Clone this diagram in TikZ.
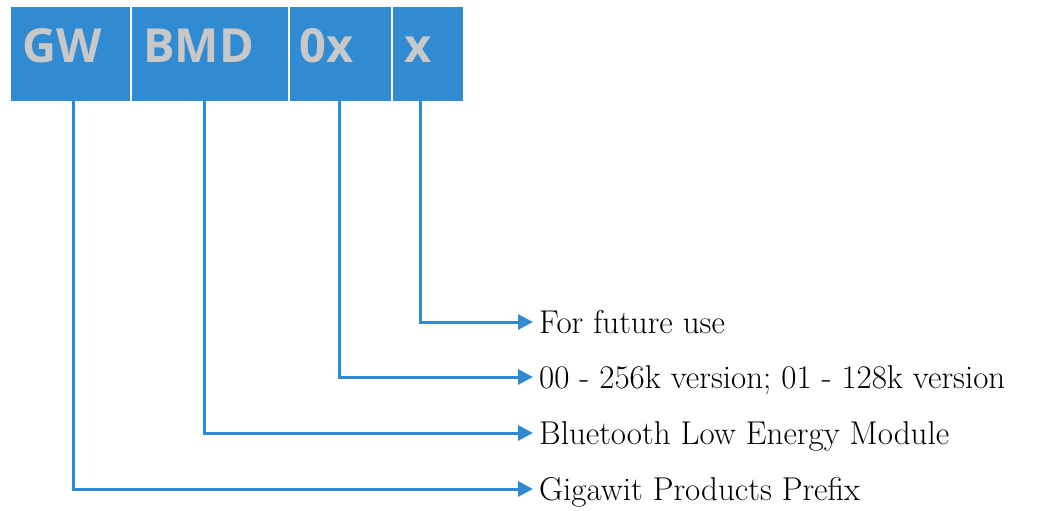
\documentclass[tikz,border=0pt]{standalone}
\usepackage{fontspec}
\setsansfont{Open Sans}
\usetikzlibrary{arrows.meta}
\definecolor{boxblue}{HTML}{318BD2}
\definecolor{boxtext}{HTML}{C8C8C8}
\begin{document}
\begin{tikzpicture}[x=1pt,y=-1pt,
  seg/.style={fill=boxblue,draw=none},
  segtext/.style={anchor=base west,inner sep=0pt,text=boxtext,font=\sffamily\bfseries\fontsize{47}{50}\selectfont},
  conn/.style={draw=boxblue,line width=3pt,-{Triangle[length=15pt,width=15pt]}},
  lbl/.style={anchor=base west,inner sep=0pt,font=\fontsize{33}{36}\selectfont}]
\useasboundingbox (0,0) rectangle (1050,511);
\fill[seg] (11,7) rectangle (130,101);
\fill[seg] (132,7) rectangle (288,101);
\fill[seg] (290,7) rectangle (391,101);
\fill[seg] (393,7) rectangle (463,101);
\node[segtext] (gw) at (22,63) {GW};
\node[segtext] (bmd) at (143,63) {BMD};
\node[segtext] (ox) at (299,63) {0x};
\node[segtext] (xx) at (404,63) {x};
\coordinate (gwb) at (73,101);
\coordinate (bmdb) at (204,101);
\coordinate (oxb) at (339,101);
\coordinate (xxb) at (420,101);
\node[lbl] (l1) at (539,333) {For future use};
\node[lbl] (l2) at (539,388) {00 - 256k version; 01 - 128k version};
\node[lbl] (l3) at (539,444) {Bluetooth Low Energy Module};
\node[lbl] (l4) at (539,500) {Gigawit Products Prefix};
\draw[conn] (xxb) |- ([xshift=-6pt]l1.west |- 0,322);
\draw[conn] (oxb) |- ([xshift=-6pt]l2.west |- 0,377);
\draw[conn] (bmdb) |- ([xshift=-6pt]l3.west |- 0,433);
\draw[conn] (gwb) |- ([xshift=-6pt]l4.west |- 0,489);
\end{tikzpicture}
\end{document}
